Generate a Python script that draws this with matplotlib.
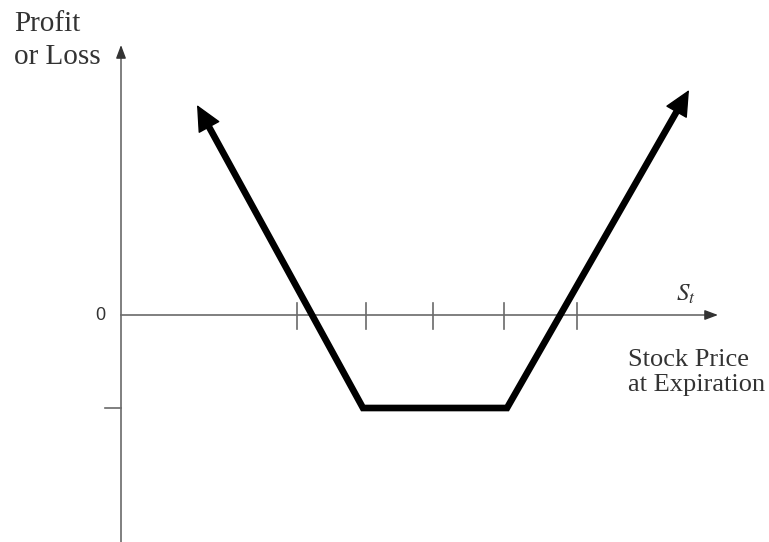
import matplotlib
matplotlib.use("Agg")
import matplotlib.pyplot as plt
import numpy as np

# ---- data (arbitrary units, origin at the axes crossing) ----
payoff_x = [76, 242, 386, 568]
payoff_y = [210, -93, -93, 225]
xtick_pos = [176, 245, 312, 383, 456]
ytick_pos = [-93]
zero_label = "0"
ylabel_text = "Profit\nor Loss"
xlabel_text = "Stock Price\nat Expiration"
x_axis_end = 597
y_axis_top = 270
y_axis_bottom = -227

plt.rcParams['mathtext.fontset'] = 'stix'

fig = plt.figure(figsize=(7.69, 5.42), dpi=100)
ax = fig.add_axes([0, 0, 1, 1])
ax.set_xlim(-121, 648)
ax.set_ylim(-227, 315)
ax.axis('off')

axis_color = '#6a6a6a'
small_head = dict(arrowstyle='-|>,head_length=0.8,head_width=0.3',
                  color='#333333', lw=1.0, shrinkA=0, shrinkB=0, mutation_scale=10)
# y axis with arrow
ax.plot([0, 0], [y_axis_bottom, y_axis_top - 6], color=axis_color, lw=1.2)
ax.annotate('', xy=(0, y_axis_top), xytext=(0, y_axis_top - 9), arrowprops=small_head)
# x axis with arrow
ax.plot([0, x_axis_end - 6], [0, 0], color=axis_color, lw=1.2)
ax.annotate('', xy=(x_axis_end, 0), xytext=(x_axis_end - 9, 0), arrowprops=small_head)

# x ticks crossing the axis
for xt in xtick_pos:
    ax.plot([xt, xt], [-14, 12], color=axis_color, lw=1.2)
# y tick on left
for yt in ytick_pos:
    ax.plot([-16, 0], [yt, yt], color=axis_color, lw=1.2)

# payoff line, ends shortened so they sit inside the arrowheads
px = np.array(payoff_x, dtype=float)
py = np.array(payoff_y, dtype=float)
lx, ly = px.copy(), py.copy()
for end, prev in [(0, 1), (3, 2)]:
    d = np.array([px[end] - px[prev], py[end] - py[prev]])
    d /= np.hypot(*d)
    lx[end] = px[end] - 14 * d[0]
    ly[end] = py[end] - 14 * d[1]
ax.plot(lx, ly, color='black', lw=4.8, solid_joinstyle='miter', solid_capstyle='butt')

head = dict(arrowstyle='-|>,head_length=0.8,head_width=0.38', color='black',
            lw=1.0, shrinkA=0, shrinkB=0, mutation_scale=21)
ax.annotate('', xy=(px[0], py[0]), xytext=(lx[0], ly[0]), arrowprops=head)
ax.annotate('', xy=(px[3], py[3]), xytext=(lx[3], ly[3]), arrowprops=head)

# texts
ax.text(-107, 304, ylabel_text, family='Liberation Serif', fontsize=21,
        color='#333333', ha='left', va='top', linespacing=1.35)
ax.text(507, -34, xlabel_text, family='Liberation Serif', fontsize=19,
        color='#333333', ha='left', va='top', linespacing=1.2)
ax.text(555, 14, '$S_t$', fontsize=18, color='#333333', ha='left', va='baseline')
ax.text(-21, 0, zero_label, family='Liberation Sans', fontsize=13,
        color='#333333', ha='center', va='center')

fig.savefig('out.png', dpi=100)
